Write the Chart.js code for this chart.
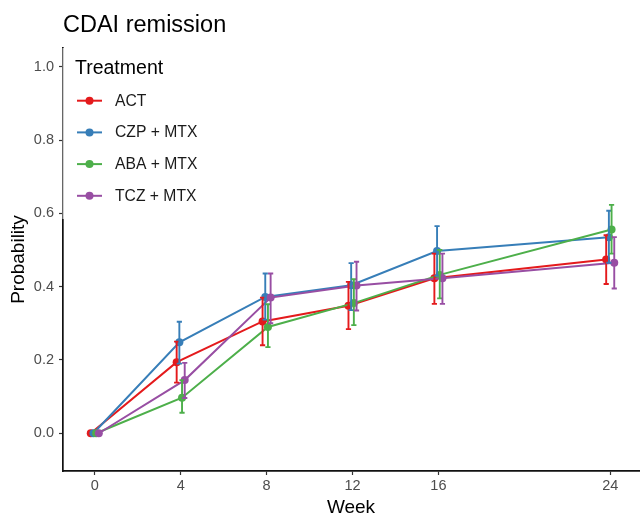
<!DOCTYPE html>
<html>
<head>
<meta charset="utf-8">
<script src="https://cdn.jsdelivr.net/npm/chart.js@4.4.1/dist/chart.umd.min.js"></script>
<style>
html,body{margin:0;padding:0;background:#fff;}
#wrap{width:643px;height:520px;}
</style>
</head>
<body>
<div id="wrap"><canvas id="c" width="643" height="520"></canvas></div>
<script>
// ---- data ----
const weeks = [0, 4, 8, 12, 16, 24];
const seriesNames = ['ACT', 'CZP + MTX', 'ABA + MTX', 'TCZ + MTX'];
const actMean  = [0, 0.194, 0.305, 0.348, 0.423, 0.474];
const actLow   = [0, 0.138, 0.240, 0.284, 0.353, 0.407];
const actHigh  = [0, 0.250, 0.370, 0.413, 0.490, 0.540];
const czpMean  = [0, 0.248, 0.372, 0.404, 0.497, 0.535];
const czpLow   = [0, 0.190, 0.310, 0.336, 0.430, 0.465];
const czpHigh  = [0, 0.304, 0.436, 0.464, 0.565, 0.607];
const abaMean  = [0, 0.097, 0.290, 0.355, 0.432, 0.556];
const abaLow   = [0, 0.056, 0.235, 0.295, 0.368, 0.490];
const abaHigh  = [0, 0.145, 0.352, 0.420, 0.500, 0.623];
const tczMean  = [0, 0.145, 0.370, 0.403, 0.423, 0.465];
const tczLow   = [0, 0.096, 0.300, 0.335, 0.353, 0.395];
const tczHigh  = [0, 0.192, 0.436, 0.468, 0.490, 0.535];
const xTicks = [0, 4, 8, 12, 16, 24];
const yTicks = [0, 0.2, 0.4, 0.6, 0.8, 1.0];
const titleText = 'CDAI remission';
const legendTitle = 'Treatment';
const xTitle = 'Week';
const yTitle = 'Probability';

// ---- styling ----
const colors = ['#E41A1C', '#377EB8', '#4DAF4A', '#984EA3'];
const dodge = [-0.1875, -0.0625, 0.0625, 0.1875];
const means = [actMean, czpMean, abaMean, tczMean];
const lows = [actLow, czpLow, abaLow, tczLow];
const highs = [actHigh, czpHigh, abaHigh, tczHigh];
const FONT = "'Liberation Sans', Arial, Helvetica, sans-serif";

const datasets = seriesNames.map((name, i) => ({
  label: name,
  data: weeks.map((w, j) => ({x: w + dodge[i], y: means[i][j], lo: lows[i][j], hi: highs[i][j]})),
  borderColor: colors[i],
  backgroundColor: colors[i],
  borderWidth: 2,
  pointRadius: 4,
  pointHoverRadius: 4,
  pointBorderWidth: 0,
  tension: 0,
  order: seriesNames.length - i
}));

const errorBars = {
  id: 'errorBars',
  afterDatasetsDraw(chart) {
    const ctx = chart.ctx;
    const xs = chart.scales.x, ys = chart.scales.y;
    ctx.save();
    chart.data.datasets.forEach((ds) => {
      ctx.strokeStyle = ds.borderColor;
      ctx.lineWidth = 1.9;
      ds.data.forEach(p => {
        if (p.hi === p.lo) return;
        const x = xs.getPixelForValue(p.x);
        const y1 = ys.getPixelForValue(p.lo);
        const y2 = ys.getPixelForValue(p.hi);
        ctx.beginPath();
        ctx.moveTo(x, y1); ctx.lineTo(x, y2);
        ctx.moveTo(x - 2.6, y1); ctx.lineTo(x + 2.6, y1);
        ctx.moveTo(x - 2.6, y2); ctx.lineTo(x + 2.6, y2);
        ctx.stroke();
      });
    });
    ctx.restore();
  }
};

const decor = {
  id: 'decor',
  afterDraw(chart) {
    const ctx = chart.ctx;
    const ca = chart.chartArea;
    ctx.save();
    // title
    ctx.fillStyle = '#000';
    ctx.font = '23.5px ' + FONT;
    ctx.textBaseline = 'alphabetic';
    ctx.textAlign = 'left';
    ctx.fillText(titleText, 63, 32);
    // legend box (semi-transparent)
    ctx.fillStyle = 'rgba(255,255,255,0.72)';
    ctx.fillRect(ca.left - 0.5, ca.top, 153, 171);
    ctx.fillStyle = '#000';
    ctx.font = '19.5px ' + FONT;
    ctx.fillText(legendTitle, 75, 74);
    ctx.font = '15.7px ' + FONT;
    ctx.textBaseline = 'middle';
    seriesNames.forEach((name, i) => {
      const y = 100.7 + i * 31.7;
      ctx.strokeStyle = colors[i];
      ctx.lineWidth = 2;
      ctx.beginPath();
      ctx.moveTo(77, y); ctx.lineTo(102, y);
      ctx.stroke();
      ctx.fillStyle = colors[i];
      ctx.beginPath();
      ctx.arc(89.5, y, 4, 0, Math.PI * 2);
      ctx.fill();
      ctx.fillStyle = '#1a1a1a';
      ctx.fillText(name, 115, y + 0.5);
    });
    ctx.restore();
  }
};

new Chart(document.getElementById('c'), {
  type: 'line',
  data: { datasets },
  options: {
    responsive: false,
    animation: false,
    devicePixelRatio: 1,
    layout: { padding: { top: 48, left: 0, right: -3, bottom: 0 } },
    plugins: { legend: { display: false }, tooltip: { enabled: false }, title: { display: false } },
    scales: {
      x: {
        type: 'linear',
        min: -1.48,
        max: 25.34,
        afterBuildTicks: s => { s.ticks = xTicks.map(v => ({ value: v })); },
        afterFit: s => { s.height = 49; },
        grid: { display: true, drawOnChartArea: false, drawTicks: true, tickLength: 4, tickColor: '#333333', tickWidth: 1.2 },
        border: { display: true, color: '#111', width: 1.7 },
        ticks: { color: '#4D4D4D', font: { family: FONT, size: 14.5 }, padding: 2, maxRotation: 0, autoSkip: false },
        title: { display: true, text: xTitle, color: '#000', font: { family: FONT, size: 19 }, padding: { top: 0, bottom: 1 } }
      },
      y: {
        type: 'linear',
        min: -0.103,
        max: 1.051,
        afterBuildTicks: s => { s.ticks = yTicks.map(v => ({ value: v })); },
        afterFit: s => { s.width = 63; },
        grid: { display: true, drawOnChartArea: false, drawTicks: true, tickLength: 4, tickColor: '#333333', tickWidth: 1.2 },
        border: { display: true, color: '#111', width: 1.7 },
        ticks: { color: '#4D4D4D', font: { family: FONT, size: 14.5 }, padding: 5, callback: v => Number(v).toFixed(1) },
        title: { display: true, text: yTitle, color: '#000', font: { family: FONT, size: 19 }, padding: { top: 7, bottom: 0 } }
      }
    }
  },
  plugins: [errorBars, decor]
});
</script>
</body>
</html>
